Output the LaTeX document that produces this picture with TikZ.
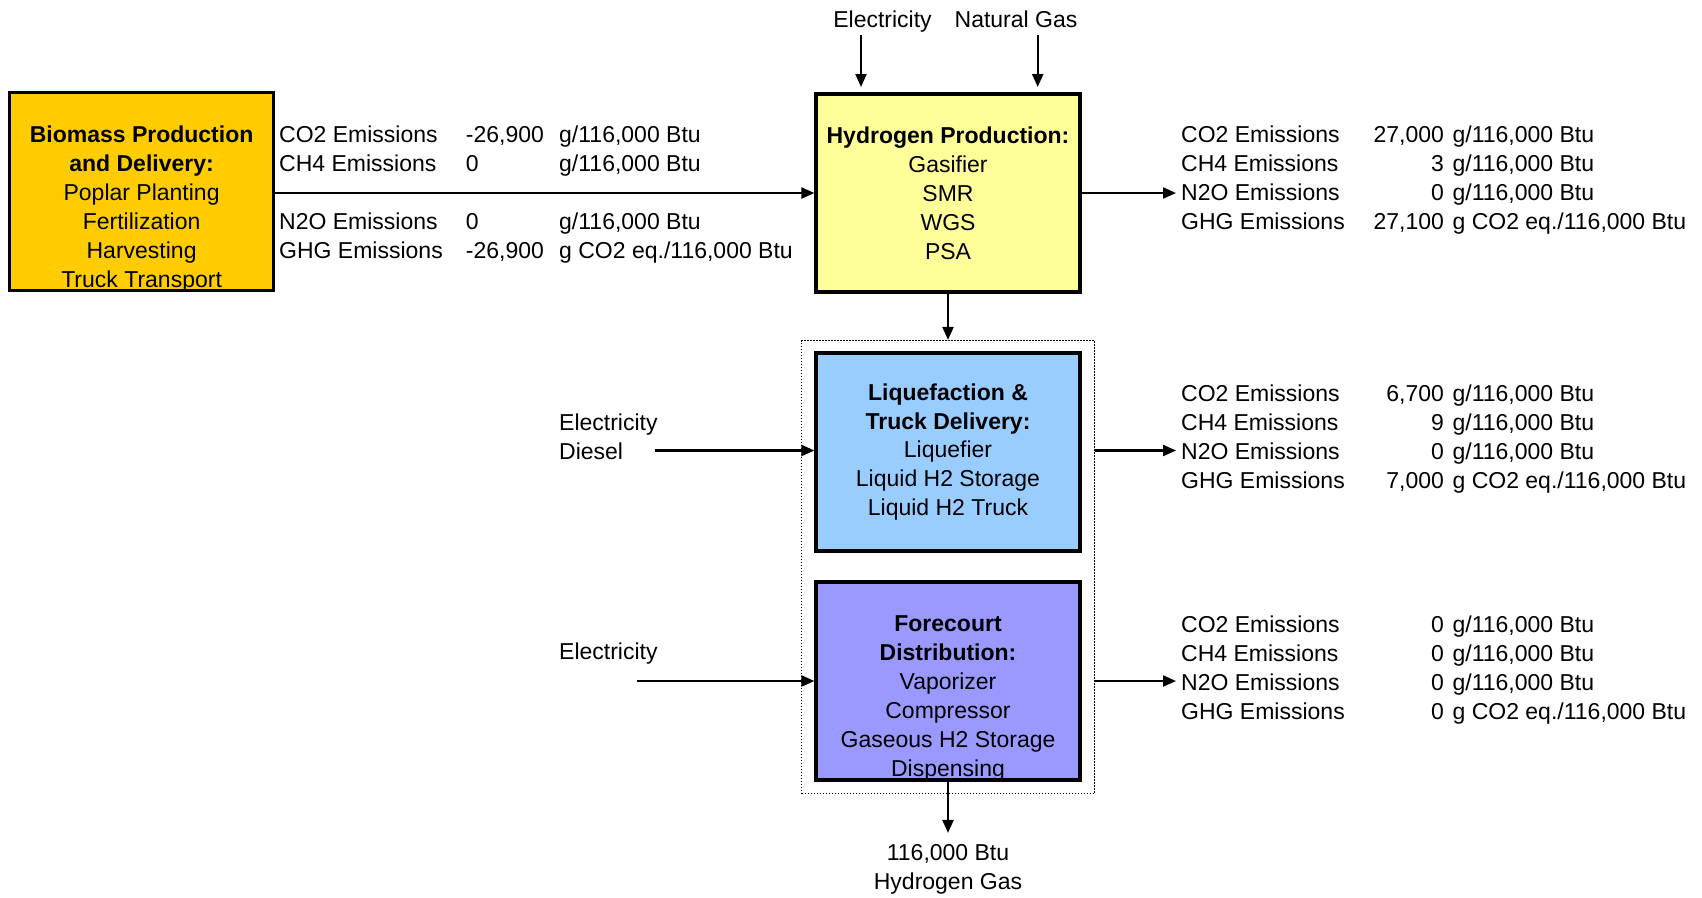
\documentclass[tikz,border=0pt]{standalone}
\usepackage{fontspec}
\setmainfont{Liberation Sans}
\usepackage{array}
\usetikzlibrary{positioning,arrows.meta}
\definecolor{BioGold}{HTML}{FFCC00}
\definecolor{HydYellow}{HTML}{FFFF99}
\definecolor{LiqBlue}{HTML}{99CCFF}
\definecolor{ForeViolet}{HTML}{9999FF}

\begin{document}
\begin{tikzpicture}[x=1pt,y=-1pt,
  every node/.style={font=\fontsize{23}{28.9}\selectfont,inner sep=2pt},
  stage/.style={draw,line width=3.2pt,minimum width=264pt,minimum height=198pt,align=center},
  emtable/.style={anchor=base west,inner sep=0pt},
  arr/.style={-{Triangle[length=13pt,width=11pt]},line width=2.2pt}]
  \useasboundingbox (0,0) rectangle (1702,897);
  % process boxes
  \node[draw,dash pattern=on 1.2pt off 1.8pt,line width=1.2pt,minimum width=293pt,minimum height=453pt] (dist) at (948,567) {};
  \node[stage,fill=BioGold] (bio) at (141.6,191.5) {};
  \node[align=center] (biotxt) at (141.6,209) {\textbf{Biomass Production}\\\textbf{and Delivery:}\\Poplar Planting\\Fertilization\\Harvesting\\Truck Transport};
  \node[stage,fill=HydYellow] (hyd) at (948,193) {\textbf{Hydrogen Production:}\\Gasifier\\SMR\\WGS\\PSA};
  \node[stage,fill=LiqBlue] (liq) at (948,452) {\textbf{Liquefaction \&}\\\textbf{Truck Delivery:}\\Liquefier\\Liquid H2 Storage\\Liquid H2 Truck};
  \node[stage,fill=ForeViolet] (fore) at (948,681) {};
  \node[align=center] (foretxt) at (948,698.5) {\textbf{Forecourt}\\\textbf{Distribution:}\\Vaporizer\\Compressor\\Gaseous H2 Storage\\Dispensing};
  % inputs
  \node[text height=17pt,text depth=5pt] (elec) at (882.5,21.5) {Electricity};
  \node[text height=17pt,text depth=5pt] (ngas) at (1016,21.5) {Natural Gas};
  \node[anchor=west,align=left] (liqin) at (557,436.6) {Electricity\\Diesel};
  \node[anchor=west] (forein) at (557,654) {Electricity};
  \node[align=center] (h2gas) at (948,869) {116,000 Btu\\Hydrogen Gas};
  % emissions
  \node[emtable] (bioem) at (279,142.9) {\begin{tabular}[t]{@{}w{l}{186.7pt}@{}w{l}{93.3pt}@{}l@{}}
    CO2 Emissions & -26,900 & g/116,000 Btu\\
    CH4 Emissions & 0 & g/116,000 Btu\\
    \\
    N2O Emissions & 0 & g/116,000 Btu\\
    GHG Emissions & -26,900 & g CO2 eq./116,000 Btu
  \end{tabular}};
  \node[emtable] (hydem) at (1181,142.9) {\begin{tabular}[t]{@{}w{l}{192.4pt}@{}w{r}{70.3pt}@{\hspace{8.7pt}}l@{}}
    CO2 Emissions & 27,000 & g/116,000 Btu\\
    CH4 Emissions & 3 & g/116,000 Btu\\
    N2O Emissions & 0 & g/116,000 Btu\\
    GHG Emissions & 27,100 & g CO2 eq./116,000 Btu
  \end{tabular}};
  \node[emtable] (liqem) at (1181,401.3) {\begin{tabular}[t]{@{}w{l}{192.4pt}@{}w{r}{70.3pt}@{\hspace{8.7pt}}l@{}}
    CO2 Emissions & 6,700 & g/116,000 Btu\\
    CH4 Emissions & 9 & g/116,000 Btu\\
    N2O Emissions & 0 & g/116,000 Btu\\
    GHG Emissions & 7,000 & g CO2 eq./116,000 Btu
  \end{tabular}};
  \node[emtable] (foreem) at (1181,632.3) {\begin{tabular}[t]{@{}w{l}{192.4pt}@{}w{r}{70.3pt}@{\hspace{8.7pt}}l@{}}
    CO2 Emissions & 0 & g/116,000 Btu\\
    CH4 Emissions & 0 & g/116,000 Btu\\
    N2O Emissions & 0 & g/116,000 Btu\\
    GHG Emissions & 0 & g CO2 eq./116,000 Btu
  \end{tabular}};
  % connectors
  \coordinate (elecend) at (861,87);
  \coordinate (ngasend) at (1037.7,87);
  \coordinate (liqsrc) at (655,450.5);
  \coordinate (foresrc) at (637,681);
  \coordinate (emout) at (1176,0);
  \draw[arr] (elec.south -| elecend) -- (elecend);
  \draw[arr] (ngas.south -| ngasend) -- (ngasend);
  \draw[arr] (bio.east |- hyd) -- (hyd);
  \draw[arr] (hyd.east) -- (hyd.east -| emout);
  \draw[arr] (hyd) -- (dist);
  \draw[arr] (liqsrc) -- (liqsrc -| liq.west);
  \draw[arr] (dist.east |- liqsrc) -- (liqsrc -| emout);
  \draw[arr] (foresrc) -- (fore.west);
  \draw[arr] (dist.east |- fore) -- (fore -| emout);
  \draw[arr,shorten >=9pt] (fore) -- (h2gas.north);
\end{tikzpicture}
\end{document}
